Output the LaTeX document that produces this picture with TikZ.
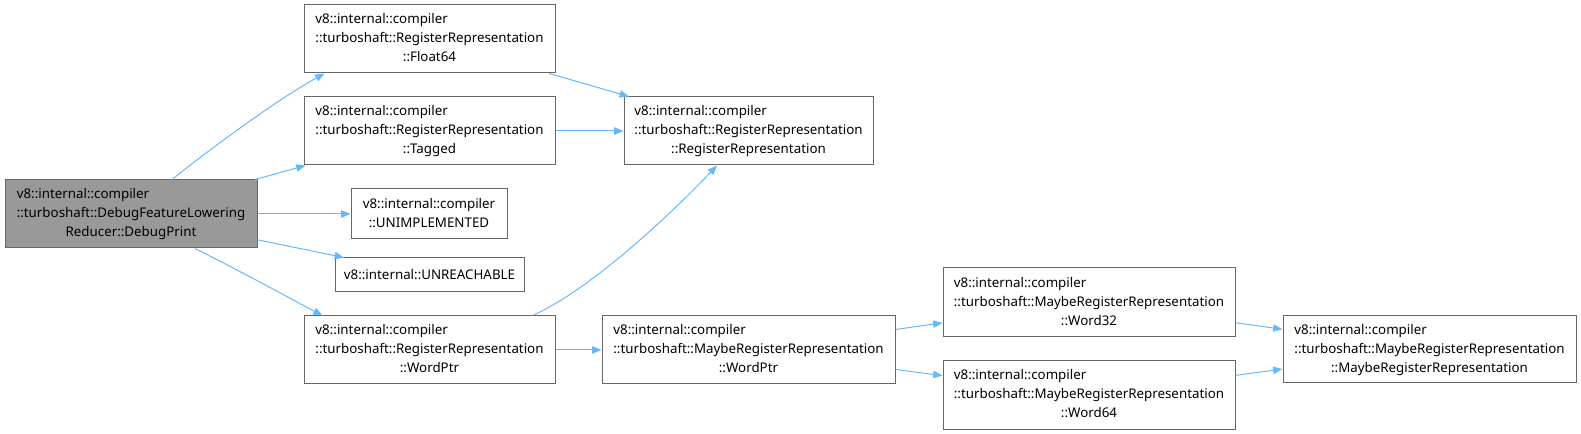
\documentclass[tikz,border=0pt]{standalone}
\usepackage{fontspec}
\setmainfont{Noto Sans}
\usetikzlibrary{arrows.meta,calc}
\definecolor{edgeblue}{HTML}{63B8FF}
\definecolor{boxgray}{HTML}{666666}
\definecolor{curfill}{HTML}{999999}
% label helpers: left-aligned lines, last line centred
\newcommand{\clslabel}[3]{\begin{tabular}{@{}l@{}}#1\\#2\\\multicolumn{1}{@{}c@{}}{#3}\end{tabular}}
\newcommand{\fnlabel}[2]{\begin{tabular}{@{}l@{}}#1\\\multicolumn{1}{@{}c@{}}{#2}\end{tabular}}
\begin{document}
\begin{tikzpicture}[x=0.75pt, y=-0.75pt, >={Triangle[length=7pt,width=5.5pt]},
    every node/.style={draw=boxgray, line width=0.75pt, fill=white, inner sep=0pt,
      font=\fontsize{10}{14.25}\selectfont},
    sz/.style 2 args={minimum width=#1*0.75pt, minimum height=#2*0.75pt},
    edge/.style={->, color=edgeblue, line width=0.75pt}]
    \useasboundingbox (0,0) rectangle (1581,434);

    % caller
    \node[sz={252}{68}, fill=curfill] (dp) at (131,214)
      {\clslabel{v8::internal::compiler}{::turboshaft::DebugFeatureLowering}{Reducer::DebugPrint}};

    % first column
    \node[sz={251}{68}] (f64) at (429.5,39)
      {\clslabel{v8::internal::compiler}{::turboshaft::RegisterRepresentation}{::Float64}};
    \node[sz={251}{68}] (tag) at (429.5,131)
      {\clslabel{v8::internal::compiler}{::turboshaft::RegisterRepresentation}{::Tagged}};
    \node[sz={156}{50}] (unimpl) at (429,214)
      {\fnlabel{v8::internal::compiler}{::UNIMPLEMENTED}};
    \node[sz={189}{34}] (unreach) at (429.5,275) {v8::internal::UNREACHABLE};
    \node[sz={251}{68}] (wp) at (429.5,350)
      {\clslabel{v8::internal::compiler}{::turboshaft::RegisterRepresentation}{::WordPtr}};

    % second column
    \node[sz={249}{68}] (rr) at (748.5,131)
      {\clslabel{v8::internal::compiler}{::turboshaft::RegisterRepresentation}{::RegisterRepresentation}};
    \node[sz={293}{68}] (mwp) at (748.5,350)
      {\clslabel{v8::internal::compiler}{::turboshaft::MaybeRegisterRepresentation}{::WordPtr}};

    % third and fourth column
    \node[sz={292}{69}] (w32) at (1089,302.5)
      {\clslabel{v8::internal::compiler}{::turboshaft::MaybeRegisterRepresentation}{::Word32}};
    \node[sz={292}{68}] (w64) at (1089,395)
      {\clslabel{v8::internal::compiler}{::turboshaft::MaybeRegisterRepresentation}{::Word64}};
    \node[sz={293}{67}] (mrr) at (1429.5,349.5)
      {\clslabel{v8::internal::compiler}{::turboshaft::MaybeRegisterRepresentation}{::MaybeRegisterRepresentation}};

    % calls
    \draw[edge] ($(dp.north)+(41,0)$) .. controls (215,145) and (280,98) .. ($(f64.south west)+(21,0)$);
    \draw[edge] (dp) -- (tag);
    \draw[edge] (dp) -- (unimpl);
    \draw[edge] (dp) -- (unreach);
    \draw[edge] ($(dp.south)+(64,0)$) .. controls (240,271) and (280,293) .. ($(wp.north west)+(19,0)$);
    \draw[edge] (f64) -- (rr);
    \draw[edge] (tag) -- (rr);
    \draw[edge] ($(wp.north east)+(-23,0)$) .. controls (590,290) and (670,215) .. ($(rr.south)+(-31.5,0)$);
    \draw[edge] (wp) -- (mwp);
    \draw[edge] (mwp) -- (w32);
    \draw[edge] (mwp) -- (w64);
    \draw[edge] (w32) -- (mrr);
    \draw[edge] (w64) -- (mrr);
  \end{tikzpicture}
\end{document}
